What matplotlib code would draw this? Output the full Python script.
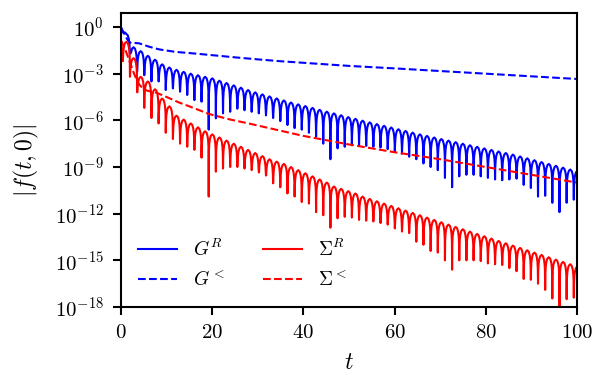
import numpy as np
import matplotlib
matplotlib.use("Agg")
import matplotlib.pyplot as plt
from matplotlib.ticker import FixedLocator, NullLocator

plt.rcParams['font.family'] = 'serif'
plt.rcParams['font.serif'] = ['cmr10', 'DejaVu Serif']
plt.rcParams['mathtext.fontset'] = 'cm'
plt.rcParams['axes.formatter.use_mathtext'] = True

# dips of the retarded functions sit on a regular grid in t
dip_t0 = 0.4
period = 1.57

# log10 |G^R| : values at the dips and at the tops of the arches in between
gr_start = 0.0
gr_dips = [-0.35, -1.7, -2.87, -3.1, -3.5, -3.5, -4.05, -3.95, -4.16, -4.37,
           -4.7, -4.8, -6.6, -5.87, -5.55, -5.45, -5.25, -5.35, -5.45, -5.55,
           -5.68, -5.85, -6.05, -6.3, -6.5, -6.6, -6.8, -7.05, -7.5, -8.5,
           -7.8, -7.7, -7.6, -7.6, -7.65, -7.7, -7.75, -7.85, -8.0, -8.15,
           -8.34, -8.5, -8.77, -9.0, -9.2, -9.7, -10.3, -9.6, -9.5, -9.5,
           -9.6, -9.7, -9.8, -9.85, -9.8, -9.75, -10.15, -10.35, -10.9, -10.85,
           -11.3, -11.9, -11.3, -11.1]
gr_peaks = [-0.45, -1.3, -1.55, -1.85, -2.1, -2.4, -2.6, -2.75, -2.88, -3.0,
            -3.1, -3.2, -3.3, -3.45, -3.6, -3.75, -3.9, -4.05, -4.2, -4.33,
            -4.46, -4.59, -4.72, -4.85, -4.97, -5.08, -5.2, -5.32, -5.44, -5.55,
            -5.67, -5.79, -5.9, -6.02, -6.13, -6.24, -6.35, -6.46, -6.57, -6.68,
            -6.79, -6.9, -7.0, -7.1, -7.2, -7.3, -7.4, -7.5, -7.6, -7.7,
            -7.8, -7.9, -8.0, -8.1, -8.2, -8.32, -8.44, -8.56, -8.68, -8.8,
            -8.92, -9.04, -9.16, -9.25]

# log10 |Sigma^R|
sr_start = -0.84
sr_dips = [-2.2, -3.2, -4.2, -5.2, -5.85, -6.2, -6.8, -7.2, -7.5, -7.7,
           -7.9, -8.4, -10.9, -9.3, -9.1, -9.0, -9.0, -9.1, -9.2, -9.35,
           -9.55, -10.05, -10.3, -10.7, -10.9, -11.25, -11.35, -11.9, -12.1, -12.9,
           -12.3, -12.2, -12.25, -12.4, -12.45, -12.5, -12.6, -12.7, -12.95, -13.15,
           -13.25, -13.8, -14.0, -14.4, -14.5, -15.0, -15.6, -15.0, -15.0, -15.0,
           -15.05, -15.2, -15.25, -15.3, -15.5, -15.7, -16.2, -16.25, -16.5, -16.9,
           -17.45, -17.95, -17.5, -17.4]
sr_peaks = [-0.95, -2.0, -3.2, -3.5, -4.0, -4.6, -5.1, -5.7, -5.95, -6.2,
            -6.45, -6.7, -6.9, -7.1, -7.3, -7.5, -7.7, -7.9, -8.1, -8.3,
            -8.5, -8.65, -8.8, -9.0, -9.2, -9.4, -9.6, -9.8, -10.0, -10.25,
            -10.4, -10.55, -10.7, -10.9, -11.05, -11.2, -11.35, -11.5, -11.65, -11.8,
            -11.95, -12.1, -12.25, -12.4, -12.55, -12.7, -12.85, -13.0, -13.15, -13.3,
            -13.45, -13.6, -13.75, -13.9, -14.05, -14.2, -14.35, -14.5, -14.65, -14.8,
            -14.95, -15.1, -15.25, -15.4]

# log10 |G^<| and log10 |Sigma^<| (smooth)
gl_t = [0, 0.5, 1, 1.5, 2, 2.5, 3.2, 4, 5, 6.2, 8.4, 12, 16, 20, 25, 30, 35,
        40, 50, 60, 70, 80, 90, 100]
gl_v = [-0.05, -0.3, -0.6, -0.85, -1.0, -1.05, -1.03, -1.05, -1.15, -1.27,
        -1.44, -1.6, -1.7, -1.81, -1.95, -2.08, -2.2, -2.3, -2.5, -2.66,
        -2.83, -3.0, -3.17, -3.34]
sl_t = [0, 1, 2, 3, 4, 5, 6, 7, 8, 10, 12.7, 15, 19.4, 24, 28, 32.5, 40, 50,
        60, 70, 80, 90, 100]
sl_v = [-0.85, -1.5, -2.3, -3.1, -3.7, -4.0, -4.12, -4.15, -4.25, -4.5,
        -4.85, -5.1, -5.6, -5.95, -6.2, -6.5, -7.0, -7.55, -8.05, -8.5,
        -9.0, -9.5, -10.0]

# shape of one arch between two dips (fraction of period, log10 drop from top)
arch_f = [0.03, 0.08, 0.16, 0.3, 0.5, 0.7, 0.84, 0.92, 0.97]
arch_off = np.log10(np.sin(np.pi * np.array(arch_f)))


def build_curve(start, dips, peaks):
    t = [0.0]
    v = [start]
    for k, d in enumerate(dips):
        tk = dip_t0 + k * period
        t.append(tk)
        v.append(d)
        p = peaks[k]
        d_next = dips[k + 1] if k + 1 < len(dips) else p
        for f, off in zip(arch_f, arch_off):
            lim = d if f < 0.5 else d_next
            t.append(tk + f * period)
            v.append(max(p + off, lim))
    return np.array(t), 10.0 ** np.array(v)


gr_t, gr_y = build_curve(gr_start, gr_dips, gr_peaks)
sr_t, sr_y = build_curve(sr_start, sr_dips, sr_peaks)

fig = plt.figure(figsize=(6.07, 3.75), dpi=100)
ax = fig.add_axes([0.1993, 0.1813, 0.7512, 0.784])

lw = 1.5
ax.plot(gr_t, gr_y, color='b', lw=lw, label=r'$G^R$')
ax.plot(gl_t, 10.0 ** np.array(gl_v), color='b', lw=lw, ls='--', label=r'$G^<$')
ax.plot(sr_t, sr_y, color='r', lw=lw, label=r'$\Sigma^R$')
ax.plot(sl_t, 10.0 ** np.array(sl_v), color='r', lw=lw, ls='--', label=r'$\Sigma^<$')

ax.set_yscale('log')
ax.set_xlim(0, 100)
ax.set_ylim(1e-18, 10 ** 0.9)
ax.yaxis.set_major_locator(FixedLocator([10.0 ** e for e in range(-18, 1, 3)]))
ax.yaxis.set_minor_locator(NullLocator())
ax.set_xticks([0, 20, 40, 60, 80, 100])

for s in ax.spines.values():
    s.set_linewidth(1.5)
ax.tick_params(direction='out', length=5.5, width=1.5, labelsize=15, pad=7)

ax.set_xlabel(r'$t$', fontsize=17, labelpad=7)
ax.set_ylabel(r'$|f(t,0)|$', fontsize=17, labelpad=10)

ax.legend(loc='lower left', ncol=2, frameon=False, fontsize=14)

fig.savefig('out.png', dpi=100)
